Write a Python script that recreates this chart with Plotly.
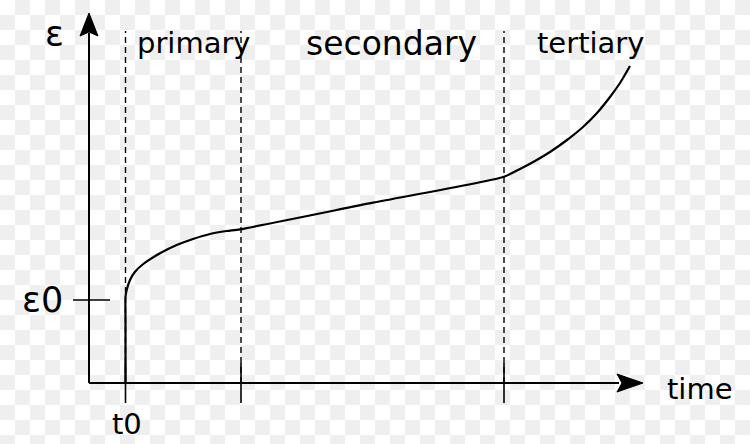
"""Creep curve: strain against time with the primary, secondary and tertiary stages."""
import numpy as np
import plotly.graph_objects as go

# Creep curve (time and strain in arbitrary units)
time = [36.5, 36.5, 36.5, 37.7, 41, 46, 54.3, 71, 87.7, 104, 121, 137.7, 151,
        284, 415, 431, 446, 461, 478, 494, 508, 521, 531, 541]
strain = [0, 60, 86, 93, 103, 111.3, 119, 129.7, 138, 144, 149, 152, 153.7,
          180.3, 206.3, 214, 222, 231, 243, 256, 270, 286, 300, 317]

# Stage boundaries on the time axis: t0, end of primary, end of secondary
stage_bounds = [36.5, 152, 415]
stage_names = ["primary", "secondary", "tertiary"]
stage_label_x = [105, 302, 501]
eps0 = 83

X_RANGE = [-89, 661]
Y_RANGE = [-61, 383]
FONT = "DejaVu Sans"
INK = "black"

fig = go.Figure()

# Faint checkerboard backdrop (transparent-image look of the original)
cell = 15
rows, cols = 30, 50
z = (np.add.outer(np.arange(rows), np.arange(cols)) % 2).astype(float)
fig.add_trace(go.Heatmap(
    z=z,
    x0=X_RANGE[0] + cell / 2, dx=cell,
    y0=Y_RANGE[1] - cell / 2, dy=-cell,
    colorscale=[[0, "#ffffff"], [1, "#efefef"]],
    showscale=False,
    hoverinfo="skip",
))

# Dashed stage boundaries
for t in stage_bounds:
    fig.add_shape(type="line", x0=t, x1=t, y0=0, y1=352,
                  line=dict(color=INK, width=1.4, dash="6px,4px"))
    # tick crossing the time axis
    fig.add_shape(type="line", x0=t, x1=t, y0=-20, y1=20,
                  line=dict(color=INK, width=1.6))

# eps0 tick on the strain axis
fig.add_shape(type="line", x0=-16, x1=21, y0=eps0, y1=eps0,
              line=dict(color=INK, width=1.6))

# Axes with arrowheads
fig.add_shape(type="line", x0=0, x1=530, y0=0, y1=0, line=dict(color=INK, width=2))
fig.add_shape(type="line", x0=0, x1=0, y0=0, y1=350, line=dict(color=INK, width=2))
fig.add_shape(type="path", path="M 554 0 L 528 9 L 533 0 L 528 -9 Z",
              fillcolor=INK, line=dict(color=INK, width=1))
fig.add_shape(type="path", path="M 0 370 L -9 347 L 0 351 L 9 347 Z",
              fillcolor=INK, line=dict(color=INK, width=1))

fig.add_trace(go.Scatter(
    x=time, y=strain, mode="lines",
    line=dict(color=INK, width=2.2, shape="spline", smoothing=0.6),
    showlegend=False, hoverinfo="skip",
))

labels = [
    ("ε", -35, 349, 35, "middle"),
    ("time", 611, -6, 29, "middle"),
    ("t0", 38, -60, 29, "bottom"),
    ("ε0", -47, 83, 35, "middle"),
]
for name, x, size in zip(stage_names, stage_label_x, [29, 33, 29]):
    labels.append((name, x, 340, size, "middle"))

for text, x, y, size, yanchor in labels:
    fig.add_annotation(x=x, y=y, text=text, showarrow=False,
                       xanchor="center", yanchor=yanchor,
                       font=dict(family=FONT, size=size, color=INK))

fig.update_layout(
    width=750, height=444,
    margin=dict(l=0, r=0, t=0, b=0),
    paper_bgcolor="white", plot_bgcolor="white",
    showlegend=False,
    xaxis=dict(range=X_RANGE, visible=False, fixedrange=True),
    yaxis=dict(range=Y_RANGE, visible=False, fixedrange=True),
)

# the page body has a default 8px margin; drop it so the figure sits at 0,0
fig.write_html("out.html", config={"displayModeBar": False},
               post_script="document.body.style.margin = '0px';")
